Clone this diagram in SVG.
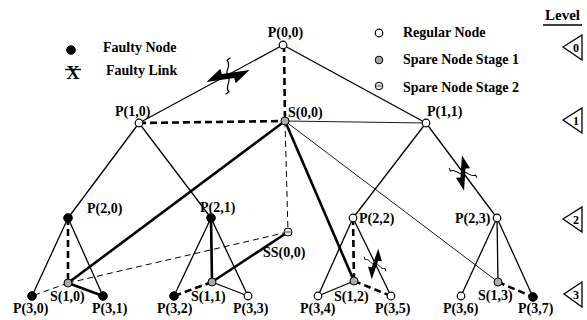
<svg xmlns="http://www.w3.org/2000/svg" width="587" height="320" viewBox="0 0 587 320">
<style>
text{font-family:"Liberation Serif","Times New Roman",serif;font-weight:bold;font-size:14px;fill:#000}
.lv{font-size:15px}
.num{font-size:12px}
.t{stroke:#000;stroke-width:1.3;fill:none}
.tt{stroke:#000;stroke-width:0.9;fill:none}
.k{stroke:#000;stroke-width:2.6;fill:none}
.kd{stroke:#000;stroke-width:2.6;fill:none;stroke-dasharray:7,4}
.td{stroke:#000;stroke-width:1;fill:none;stroke-dasharray:6,4}
.reg{fill:#fff;stroke:#000;stroke-width:1.2}
.fau{fill:#000;stroke:#000;stroke-width:1}
.sp1{fill:#aaa;stroke:#000;stroke-width:1}
.sp2{fill:#e4e4e4;stroke:#000;stroke-width:1}
.tri{fill:#fff;stroke:#000;stroke-width:1.3}
</style>
<defs>
<g id="fl">
<polygon points="-22,4 -7,-8 -6,-2.5 22,-4 7,8 6,2.5" fill="#000"/>
<path d="M4,-18 L0.5,-16 C5,-9 -4,-5 0,0 C4,5 -5,10 -0.5,16 L-4,18" fill="none" stroke="#000" stroke-width="1.2"/>
</g>
<g id="sp2m">
<line x1="-3" y1="0" x2="3" y2="0" stroke="#777" stroke-width="1.2"/>
</g>
</defs>

<g id="legend">
<circle class="fau" cx="71" cy="50" r="4.3"/>
<text x="103" y="52">Faulty Node</text>
<text x="73" y="78.5" text-anchor="middle" style="font-size:18px">X</text>
<line x1="65" y1="69.5" x2="81" y2="69.5" stroke="#000" stroke-width="1.4"/>
<text x="106" y="75">Faulty Link</text>
<circle class="reg" cx="379" cy="33" r="3.8"/>
<text x="403" y="37">Regular Node</text>
<circle class="sp1" cx="379" cy="60" r="3.8"/>
<text x="403" y="64">Spare Node Stage 1</text>
<circle class="sp2" cx="379" cy="86" r="3.8"/>
<use href="#sp2m" x="379" y="86"/>
<text x="403" y="92">Spare Node Stage 2</text>
</g>

<g id="levels">
<text class="lv" x="545" y="20">Level</text>
<line x1="543" y1="25" x2="582" y2="25" stroke="#000" stroke-width="1.3"/>
<polygon class="tri" points="563,47 582,35 582,60"/>
<text class="num" x="576" y="52" text-anchor="middle">0</text>
<polygon class="tri" points="563,120 582,108 582,133"/>
<text class="num" x="576" y="125" text-anchor="middle">1</text>
<polygon class="tri" points="563,219 582,207 582,232"/>
<text class="num" x="576" y="224" text-anchor="middle">2</text>
<polygon class="tri" points="564,294 582,282 582,307"/>
<text class="num" x="576" y="299" text-anchor="middle">3</text>
</g>

<g id="connectors">
<line class="t" x1="283" y1="45" x2="139" y2="123"/>
<line class="t" x1="283" y1="45" x2="426" y2="123"/>
<line class="kd" x1="284" y1="45" x2="285" y2="121"/>
<line class="kd" x1="139" y1="123" x2="285" y2="121"/>
<line class="tt" x1="285" y1="121" x2="426" y2="123"/>
<line class="t" x1="139" y1="123" x2="68" y2="218"/>
<line class="t" x1="139" y1="123" x2="211" y2="218"/>
<line class="t" x1="426" y1="123" x2="353" y2="218"/>
<line class="t" x1="426" y1="123" x2="497" y2="218"/>
<line class="k" x1="285" y1="121" x2="68" y2="283"/>
<line class="k" x1="285" y1="121" x2="354" y2="281"/>
<line class="td" x1="285" y1="121" x2="288" y2="232"/>
<line class="tt" x1="285" y1="121" x2="498" y2="282"/>
<line class="k" x1="288" y1="232" x2="212" y2="282"/>
<line class="td" x1="288" y1="232" x2="68" y2="283"/>
<line class="td" x1="68" y1="283" x2="32" y2="296"/>
<line class="t" x1="68" y1="218" x2="32" y2="296"/>
<line class="t" x1="68" y1="218" x2="103" y2="296"/>
<line class="kd" x1="68" y1="218" x2="68" y2="283"/>
<line class="k" x1="68" y1="283" x2="103" y2="296"/>
<line class="t" x1="211" y1="218" x2="174" y2="296"/>
<line class="t" x1="211" y1="218" x2="248" y2="296"/>
<line class="k" x1="211" y1="218" x2="212" y2="282"/>
<line class="t" x1="212" y1="282" x2="248" y2="296"/>
<line class="kd" x1="212" y1="282" x2="174" y2="296"/>
<line class="t" x1="353" y1="218" x2="318" y2="296"/>
<line class="t" x1="353" y1="218" x2="391" y2="296"/>
<line class="kd" x1="353" y1="218" x2="354" y2="281"/>
<line class="t" x1="354" y1="281" x2="318" y2="296"/>
<line class="kd" x1="354" y1="281" x2="391" y2="296"/>
<line class="t" x1="497" y1="218" x2="461" y2="296"/>
<line class="t" x1="497" y1="218" x2="533" y2="297"/>
<line class="t" x1="497" y1="218" x2="498" y2="282"/>
<line class="kd" x1="498" y1="282" x2="533" y2="297"/>
<use href="#fl" transform="translate(228,76) rotate(-5)"/>
<use href="#fl" transform="translate(463,173) rotate(97) scale(0.8)"/>
<use href="#fl" transform="translate(375,264) rotate(112) scale(0.7)"/>
</g>

<g id="P00"><circle class="reg" cx="283" cy="45" r="3.8"/><text x="285.5" y="37" text-anchor="middle">P(0,0)</text></g>
<g id="P10"><circle class="reg" cx="139" cy="123" r="3.8"/><text x="115" y="116">P(1,0)</text></g>
<g id="P11"><circle class="reg" cx="426" cy="123" r="3.8"/><text x="427" y="116">P(1,1)</text></g>
<g id="S00"><circle class="sp1" cx="285" cy="121" r="4"/><text x="288" y="117">S(0,0)</text></g>
<g id="P20"><circle class="fau" cx="68" cy="218" r="4.3"/><text x="87" y="213">P(2,0)</text></g>
<g id="P21"><circle class="fau" cx="211" cy="218" r="4.3"/><text x="200" y="212">P(2,1)</text></g>
<g id="P22"><circle class="reg" cx="353" cy="218" r="3.8"/><text x="359" y="223">P(2,2)</text></g>
<g id="P23"><circle class="reg" cx="497" cy="218" r="3.8"/><text x="455" y="223">P(2,3)</text></g>
<g id="SS00"><circle class="sp2" cx="288" cy="232" r="4"/><use href="#sp2m" x="288" y="232"/><text x="263" y="257">SS(0,0)</text></g>
<g id="S10"><circle class="sp1" cx="68" cy="283" r="4"/><text x="50" y="301">S(1,0)</text></g>
<g id="S11"><circle class="sp1" cx="212" cy="282" r="4"/><text x="191" y="301">S(1,1)</text></g>
<g id="S12"><circle class="sp1" cx="354" cy="281" r="4"/><text x="334" y="301">S(1,2)</text></g>
<g id="S13"><circle class="sp1" cx="498" cy="282" r="4"/><text x="478" y="300">S(1,3)</text></g>
<g id="P30"><circle class="fau" cx="32" cy="296" r="4.3"/><text x="13" y="313">P(3,0)</text></g>
<g id="P31"><circle class="fau" cx="103" cy="296" r="4.3"/><text x="92" y="313">P(3,1)</text></g>
<g id="P32"><circle class="fau" cx="174" cy="296" r="4.3"/><text x="157" y="313">P(3,2)</text></g>
<g id="P33"><circle class="reg" cx="248" cy="296" r="3.8"/><text x="233" y="313">P(3,3)</text></g>
<g id="P34"><circle class="reg" cx="318" cy="296" r="3.8"/><text x="300" y="313">P(3,4)</text></g>
<g id="P35"><circle class="reg" cx="391" cy="296" r="3.8"/><text x="375" y="313">P(3,5)</text></g>
<g id="P36"><circle class="reg" cx="461" cy="296" r="3.8"/><text x="443" y="313">P(3,6)</text></g>
<g id="P37"><circle class="fau" cx="533" cy="297" r="4.3"/><text x="518" y="313">P(3,7)</text></g>
</svg>
